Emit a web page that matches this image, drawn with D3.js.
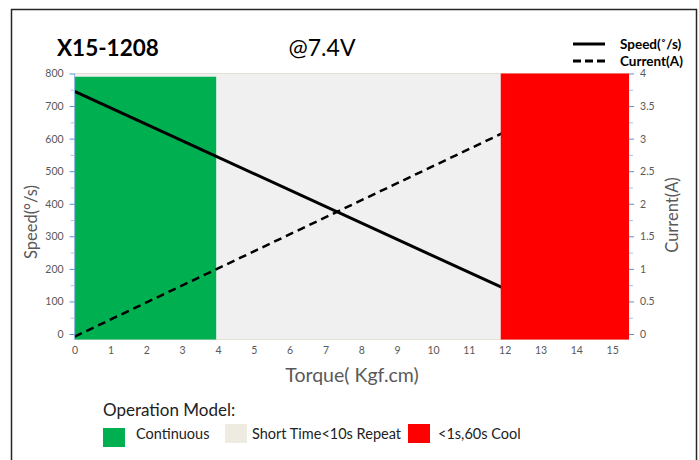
<!DOCTYPE html>
<html><head><meta charset="utf-8">
<script src="https://cdn.jsdelivr.net/npm/d3@7"></script>
<style>body{margin:0;background:#fff;}svg{display:block;font-family:Lato,"Open Sans",sans-serif;}</style>
</head><body>
<svg id="c" width="699" height="460"></svg>
<script>
const torque = [0, 12];
const speed = [745, 139];
const current = [-0.04, 3.1];
const xTicks = [0,1,2,3,4,5,6,7,8,9,10,11,12,13,14,15];
const speedTicks = [0,100,200,300,400,500,600,700,800];
const currentTicks = [0,0.5,1,1.5,2,2.5,3,3.5,4];
const zones = [
  {name:"Short Time<10s Repeat", from:0, to:15.47, top:800, color:"#f0f0f0", sw:"#eeece1"},
  {name:"Continuous", from:0, to:3.95, top:790, color:"#00b050", sw:"#00b050"},
  {name:"<1s,60s Cool", from:11.89, to:15.47, top:800, color:"#ff0000", sw:"#ff0000"}
];
const legendOrder = ["Continuous","Short Time<10s Repeat","<1s,60s Cool"];

const svg = d3.select("#c");
const x = d3.scaleLinear().domain([0,15]).range([74.6, 612.2]);
const yS = d3.scaleLinear().domain([0,800]).range([334, 73.5]);
const yC = d3.scaleLinear().domain([0,4]).range([334, 73.5]);
const grey = "#595959";

// frame
svg.append("rect").attr("x",11.5).attr("y",9.5).attr("width",685).attr("height",470)
  .attr("fill","none").attr("stroke","#262626").attr("stroke-width",1.5);

// zones
const bottomVal = -17;
function drawZone(z){
  svg.append("rect").attr("x",x(z.from)).attr("y",yS(z.top))
    .attr("width",x(z.to)-x(z.from)).attr("height",yS(bottomVal)-yS(z.top))
    .attr("fill",z.color);
}
drawZone(zones[0]);
svg.append("line").attr("x1",x(0)).attr("x2",x(15.47)).attr("y1",yS(800)).attr("y2",yS(800)).attr("stroke","#e4e0d4").attr("stroke-width",1);
svg.append("line").attr("x1",x(0)).attr("x2",x(15.47)).attr("y1",yS(bottomVal)).attr("y2",yS(bottomVal)).attr("stroke","#e4e0d4").attr("stroke-width",1);
drawZone(zones[1]);

// lines
const pts = torque.map((t,i)=>({t, s:speed[i], c:current[i]}));
svg.append("path").datum(pts).attr("fill","none").attr("stroke","#000").attr("stroke-width",3)
  .attr("d", d3.line().x(d=>x(d.t)).y(d=>yS(d.s)));
svg.append("path").datum(pts).attr("fill","none").attr("stroke","#000").attr("stroke-width",2.5)
  .attr("stroke-dasharray","8,5")
  .attr("d", d3.line().x(d=>x(d.t)).y(d=>yC(d.c)));

drawZone(zones[2]);

// left axis
const axL = svg.append("g").attr("transform",`translate(${x(0)},0)`)
  .call(d3.axisLeft(yS).tickValues(speedTicks).tickSize(5).tickPadding(6));
axL.select(".domain").attr("stroke","#8db3e2").attr("d",`M0,${yS(800)}V${yS(bottomVal)}`);
axL.selectAll(".tick line").attr("stroke","#5b8fd5");
axL.selectAll(".tick text").attr("fill",grey).attr("font-size",10.5).attr("font-family","Lato, sans-serif");
svg.append("g").attr("transform",`translate(${x(0)},0)`)
  .call(d3.axisLeft(yS).tickValues(d3.range(50,800,100)).tickSize(4).tickFormat(""))
  .call(g=>{g.select(".domain").remove();g.selectAll("line").attr("stroke","#a9c4e8");});

// right axis
const xr = x(15.47);
const axR = svg.append("g").attr("transform",`translate(${xr},0)`)
  .call(d3.axisRight(yC).tickValues(currentTicks).tickSize(5).tickPadding(6).tickFormat(d3.format("")));
axR.select(".domain").remove();
axR.selectAll(".tick line").attr("stroke","#5b8fd5");
axR.selectAll(".tick text").attr("fill",grey).attr("font-size",10.5).attr("font-family","Lato, sans-serif");
svg.append("g").attr("transform",`translate(${xr},0)`)
  .call(d3.axisRight(yC).tickValues(d3.range(0.25,4,0.5)).tickSize(4).tickFormat(""))
  .call(g=>{g.select(".domain").remove();g.selectAll("line").attr("stroke","#a9c4e8");});

// bottom axis labels
const axB = svg.append("g").attr("transform",`translate(0,${yS(bottomVal)})`)
  .call(d3.axisBottom(x).tickValues(xTicks).tickSize(0).tickPadding(7));
axB.select(".domain").remove();
axB.selectAll(".tick text").attr("fill",grey).attr("font-size",10.5).attr("font-family","Lato, sans-serif");

// axis titles
svg.append("text").attr("x",352).attr("y",382).attr("text-anchor","middle").attr("fill",grey)
  .attr("font-size",19.5).text("Torque( Kgf.cm)");
svg.append("text").attr("transform","translate(37,222) rotate(-90)").attr("text-anchor","middle").attr("fill",grey)
  .attr("font-size",16.5).text("Speed(°/s)");
svg.append("text").attr("transform","translate(678,215) rotate(-90)").attr("text-anchor","middle").attr("fill",grey)
  .attr("font-size",16.5).text("Current(A)");

// titles
svg.append("text").attr("x",57).attr("y",56).attr("font-weight","bold").attr("font-size",22.5).attr("fill","#000").text("X15-1208");
svg.append("text").attr("x",322).attr("y",56).attr("text-anchor","middle").attr("font-size",23).attr("fill","#000").text("@7.4V");

// line legend
const lg = [{label:"Speed(˚/s)", dash:null},{label:"Current(A)", dash:"8,4"}];
lg.forEach((d,i)=>{
  const yy = 44 + i*17;
  svg.append("line").attr("x1",573).attr("x2",605).attr("y1",yy).attr("y2",yy)
    .attr("stroke","#000").attr("stroke-width",3).attr("stroke-dasharray",d.dash);
  svg.append("text").attr("x",620).attr("y",yy+4.5).attr("font-weight","bold").attr("font-size",13.5).attr("fill","#000").text(d.label);
});

// operation legend
svg.append("text").attr("x",103).attr("y",416).attr("font-size",17).attr("fill","#222").text("Operation Model:");
const legPos = [{sx:103, sy:428, tx:136},{sx:225, sy:424, tx:252},{sx:408, sy:424, tx:438}];
legendOrder.forEach((n,i)=>{
  const z = zones.find(q=>q.name===n);
  const p = legPos[i];
  svg.append("rect").attr("x",p.sx).attr("y",p.sy).attr("width",22).attr("height",19).attr("fill",z.sw);
  svg.append("text").attr("x",p.tx).attr("y",439).attr("font-size",14.5).attr("fill","#222").text(n);
});
</script>
</body></html>
